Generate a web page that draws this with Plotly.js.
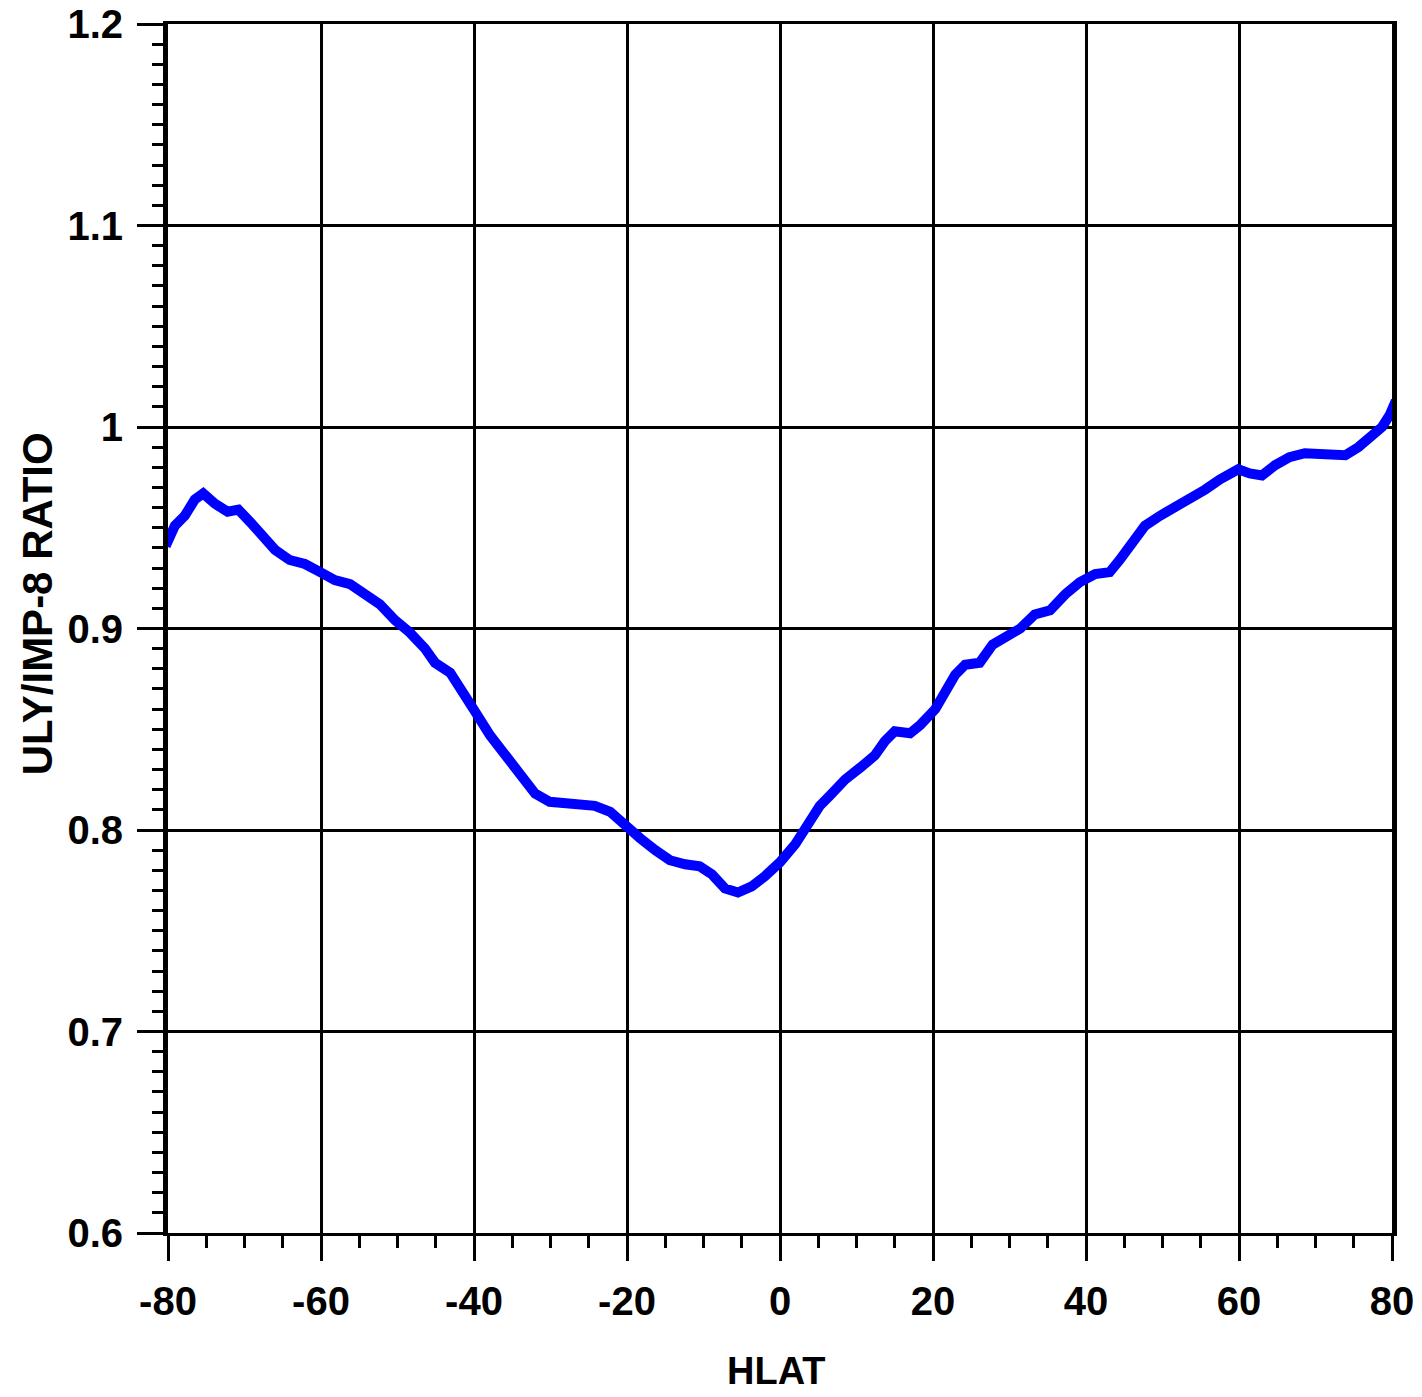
<!DOCTYPE html>
<html>
<head>
<meta charset="utf-8">
<script src="https://cdn.plot.ly/plotly-3.0.1.min.js"></script>
<style>html,body{margin:0;padding:0;background:#fff;}#chart{width:1422px;height:1397px;}</style>
</head>
<body>
<div id="chart"></div>
<script>
const hlat = [-80.3,-79.1,-77.8,-76.5,-75.4,-73.9,-72.2,-70.8,-69.3,-67.7,-66.0,-64.1,-62.1,-60.1,-58.2,-56.2,-54.2,-52.3,-50.3,-48.4,-46.4,-45.1,-43.1,-41.6,-39.9,-37.9,-36.0,-34.0,-32.0,-30.1,-28.1,-26.1,-24.2,-22.2,-20.3,-18.3,-16.3,-14.4,-12.4,-10.5,-8.9,-7.2,-5.5,-3.7,-2.0,0.0,2.0,3.9,5.2,6.5,8.5,10.5,12.4,13.7,15.0,17.0,18.3,20.3,21.6,22.9,24.2,26.1,27.8,29.4,31.4,33.3,35.3,37.3,39.2,41.2,43.1,44.4,45.8,47.7,49.7,51.6,53.6,55.6,57.5,59.9,61.4,63.0,64.7,66.6,68.6,70.6,72.5,73.9,75.6,77.1,78.7,79.7,80.5];
const ratio = [0.941,0.951,0.956,0.964,0.967,0.962,0.958,0.959,0.953,0.946,0.939,0.934,0.932,0.928,0.924,0.922,0.917,0.912,0.904,0.898,0.890,0.883,0.878,0.870,0.859,0.847,0.837,0.827,0.818,0.814,0.813,0.813,0.812,0.809,0.802,0.796,0.790,0.785,0.783,0.782,0.778,0.771,0.769,0.772,0.777,0.784,0.793,0.804,0.812,0.817,0.825,0.831,0.837,0.844,0.849,0.848,0.852,0.860,0.868,0.877,0.882,0.883,0.892,0.895,0.900,0.907,0.909,0.917,0.923,0.927,0.928,0.934,0.942,0.951,0.956,0.960,0.964,0.969,0.974,0.979,0.977,0.976,0.981,0.985,0.987,0.987,0.986,0.986,0.990,0.995,1.000,1.006,1.013];
const xTickVals = [-80,-60,-40,-20,0,20,40,60,80];
const xTickText = ['-80','-60','-40','-20','0','20','40','60','80'];
const yTickVals = [0.6,0.7,0.8,0.9,1,1.1,1.2];
const yTickText = ['0.6','0.7','0.8','0.9','1','1.1','1.2'];
const xTitle = 'HLAT';
const yTitle = 'ULY/IMP-8 RATIO';

const fam = 'Liberation Sans, Arial, sans-serif';
const tickFont = {family: fam, size: 40, color: '#000', weight: 'bold'};

Plotly.newPlot('chart', [{
  x: hlat, y: ratio, type: 'scatter', mode: 'lines',
  line: {color: '#0000ff', width: 10}
}], {
  width: 1422, height: 1397,
  margin: {l: 168, r: 30, t: 24, b: 164, pad: 0},
  paper_bgcolor: '#fff', plot_bgcolor: '#fff',
  showlegend: false,
  font: tickFont,
  xaxis: {
    range: [-80, 80], tickmode: 'array', tickvals: xTickVals, ticktext: xTickText,
    showgrid: true, gridcolor: '#000', gridwidth: 3,
    showline: true, linecolor: '#000', linewidth: 3, mirror: true,
    ticks: 'outside', ticklen: 25, tickwidth: 3, tickcolor: '#000',
    ticklabelstandoff: 6,
    zeroline: false,
    tickfont: tickFont,
    minor: {tickmode: 'linear', tick0: -80, dtick: 5, ticks: 'outside', ticklen: 12, tickwidth: 3, tickcolor: '#000', showgrid: false}
  },
  yaxis: {
    range: [0.6, 1.2], tickmode: 'array', tickvals: yTickVals, ticktext: yTickText,
    showgrid: true, gridcolor: '#000', gridwidth: 3,
    showline: true, linecolor: '#000', linewidth: 5, mirror: true,
    ticks: 'outside', ticklen: 26, tickwidth: 3, tickcolor: '#000',
    ticklabelstandoff: 6,
    zeroline: false,
    tickfont: tickFont,
    minor: {tickmode: 'linear', tick0: 0.6, dtick: 0.01, ticks: 'outside', ticklen: 11, tickwidth: 3, tickcolor: '#000', showgrid: false}
  },
  annotations: [
    {text: xTitle, xref: 'paper', yref: 'paper', x: 0.497, y: -0.114, xanchor: 'center', yanchor: 'middle', showarrow: false,
     font: {family: fam, size: 38, color: '#000', weight: 'bold'}},
    {text: yTitle, xref: 'paper', yref: 'paper', x: -0.107, y: 0.52, xanchor: 'center', yanchor: 'middle', showarrow: false, textangle: -90,
     font: {family: fam, size: 42, color: '#000', weight: 'bold'}}
  ]
}, {displayModeBar: false, staticPlot: true});
</script>
</body>
</html>
